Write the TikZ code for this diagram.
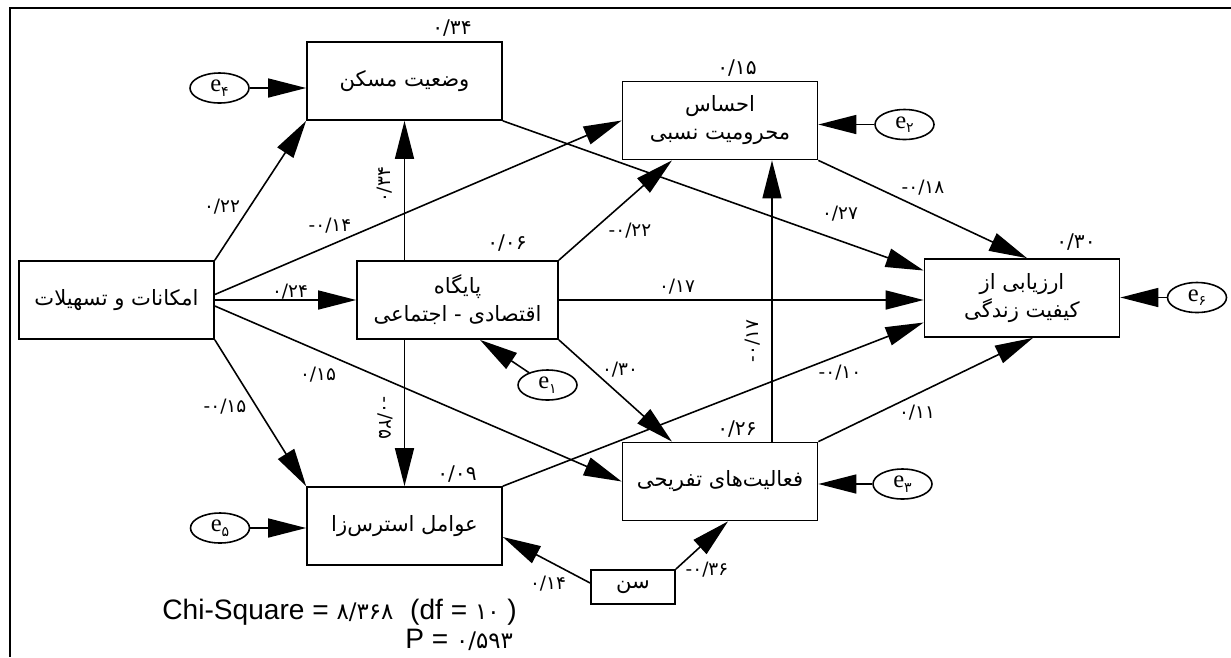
\documentclass[tikz,border=0pt]{standalone}
\usepackage{fontspec}
\setmainfont{Liberation Serif}
\setsansfont{Liberation Sans}
\newfontfamily\pfont[Script=Arabic]{DejaVu Sans}
\newfontfamily\numfont{DejaVu Sans}
\TeXXeTstate=1
\usetikzlibrary{arrows.meta,shapes.geometric,calc}
\newcommand{\fatext}[1]{\beginR #1\endR}
\newcommand{\errlabel}[1]{e\raisebox{-0.4ex}{\fontsize{8}{8}\selectfont\numfont #1}}
\newcommand{\fitnum}[1]{{\fontsize{13}{13}\selectfont\numfont #1}}

\begin{document}
\begin{tikzpicture}[x=0.02cm,y=-0.02cm,
  var/.style={draw,line width=1pt,minimum width=3.9cm,minimum height=1.56cm,align=center,
    font={\fontsize{12}{16}\selectfont\pfont}},
  err/.style={draw,ellipse,line width=0.9pt,minimum width=1.18cm,minimum height=0.6cm,inner sep=0pt,
    font={\fontsize{14}{14}\selectfont}},
  arr/.style={line width=0.9pt,-{Triangle[length=0.76cm,width=0.38cm]}},
  coef/.style={inner sep=0pt,font={\fontsize{10.5}{10.5}\selectfont\numfont}},
  rsq/.style={inner sep=0pt,font={\fontsize{11.5}{11.5}\selectfont\numfont}},
  fit/.style={anchor=west,inner sep=0pt,font={\sffamily\fontsize{16}{16}\selectfont}}]
  \useasboundingbox (0,0) rectangle (1231,657);
  \draw[line width=1.6pt] (1231,8) -- (10,8) -- (10,657);
  % variables
  \node[var] (amk) at (116.5,300) {\fatext{امکانات و تسهیلات}};
  \node[var] (mask) at (404.5,81) {\fatext{وضعیت مسکن}};
  \node[var] (ehs) at (720,120.5) {\fatext{احساس}\\\fatext{محرومیت نسبی}};
  \node[var,minimum width=4.02cm] (pay) at (457.5,300) {\fatext{پایگاه}\\\fatext{اقتصادی - اجتماعی}};
  \node[var] (arz) at (1022,298) {\fatext{ارزیابی از}\\\fatext{کیفیت زندگی}};
  \node[var] (faa) at (720,481.5) {\fatext{فعالیت‌های تفریحی}};
  \node[var] (ava) at (404.5,526) {\fatext{عوامل استرس‌زا}};
  \node[var,minimum width=1.68cm,minimum height=0.68cm] (sen) at (633,587) {\fatext{سن}};
  % error terms
  \node[err] (e1) at (547.5,385) {\errlabel{۱}};
  \node[err] (e2) at (904.5,124.5) {\errlabel{۲}};
  \node[err] (e3) at (902.5,484) {\errlabel{۳}};
  \node[err] (e4) at (219.5,88) {\errlabel{۴}};
  \node[err] (e5) at (220,528) {\errlabel{۵}};
  \node[err] (e6) at (1197,297.5) {\errlabel{۶}};
  % paths from amk
  \draw[arr] (amk.north east) -- (mask.south west);
  \draw[arr] ([yshift=0.11cm]amk.east) -- (ehs.west);
  \draw[arr] (amk.east) -- (pay.west);
  \draw[arr] ([yshift=-0.12cm]amk.east) -- (faa.west);
  \draw[arr] (amk.south east) -- (ava.north west);
  % paths from pay
  \draw[arr] (mask.south |- pay.north) -- (mask.south);
  \draw[arr] (pay.north east) -- ([xshift=-0.96cm]ehs.south);
  \draw[arr] (pay.east) -- (pay.east -| arz.west);
  \draw[arr] (pay.south east) -- ([xshift=-0.96cm]faa.north);
  \draw[arr] (ava.north |- pay.south) -- (ava.north);
  % remaining paths
  \draw[arr] (mask.south east) -- ([yshift=0.55cm]arz.west);
  \draw[arr] (ehs.south east) -- ([xshift=0.1cm]arz.north);
  \draw[arr] ([xshift=1.04cm]faa.north) -- ([xshift=1.04cm]ehs.south);
  \draw[arr] (faa.north east) -- ([xshift=0.22cm]arz.south);
  \draw[arr] (ava.north east) -- ([yshift=-0.49cm]arz.west);
  \draw[arr] ([yshift=0.08cm]sen.west) -- ([yshift=-0.22cm]ava.east);
  \draw[arr] (sen.north east) -- ([xshift=0.16cm]faa.south);
  % errors
  \draw[arr] (e1) -- ([xshift=0.45cm]pay.south);
  \draw[arr] (e2) -- (e2 -| ehs.east);
  \draw[arr] (e3) -- (e3 -| faa.east);
  \draw[arr] (e4) -- (e4 -| mask.west);
  \draw[arr] (e5) -- (e5 -| ava.west);
  \draw[arr] (e6) -- (e6 -| arz.east);
  % coefficients
  \foreach [count=\i] \x/\y/\t in {222/207/{۰/۲۲},330/226/{-۰/۱۴},290/292/{۰/۲۴},318/375/{۰/۱۵},
      225/407/{-۰/۱۵},630/231/{-۰/۲۲},840/214/{۰/۲۷},923/188/{-۰/۱۸},677/287/{۰/۱۷},
      620/370/{۰/۳۰},840/373/{-۰/۱۰},917/413/{۰/۱۱},548/584/{۰/۱۴},707/570/{-۰/۳۶}}
    \node[coef] (c\i) at (\x,\y) {\t};
  \node[coef,rotate=90] (cv1) at (385,185) {۰/۳۴};
  \node[coef,rotate=-90] (cv2) at (385,418) {-۰/۲۵};
  \node[coef,rotate=90] (cv3) at (753,341) {-۰/۱۷};
  % squared multiple correlations
  \foreach [count=\i] \x/\y/\t in {452/28/{۰/۳۴},737/68/{۰/۱۵},507/243/{۰/۰۶},
      1076/242/{۰/۳۰},737/429/{۰/۲۶},457/474/{۰/۰۹}}
    \node[rsq] (r\i) at (\x,\y) {\t};
  % fit
  \node[fit] (chi) at (162,612) {Chi-Square = \fitnum{۸/۳۶۸}\hspace{0.6em}(df = \fitnum{۱۰} )};
  \node[fit] (pval) at (405,640) {P = \fitnum{۰/۵۹۳}};
\end{tikzpicture}
\end{document}
